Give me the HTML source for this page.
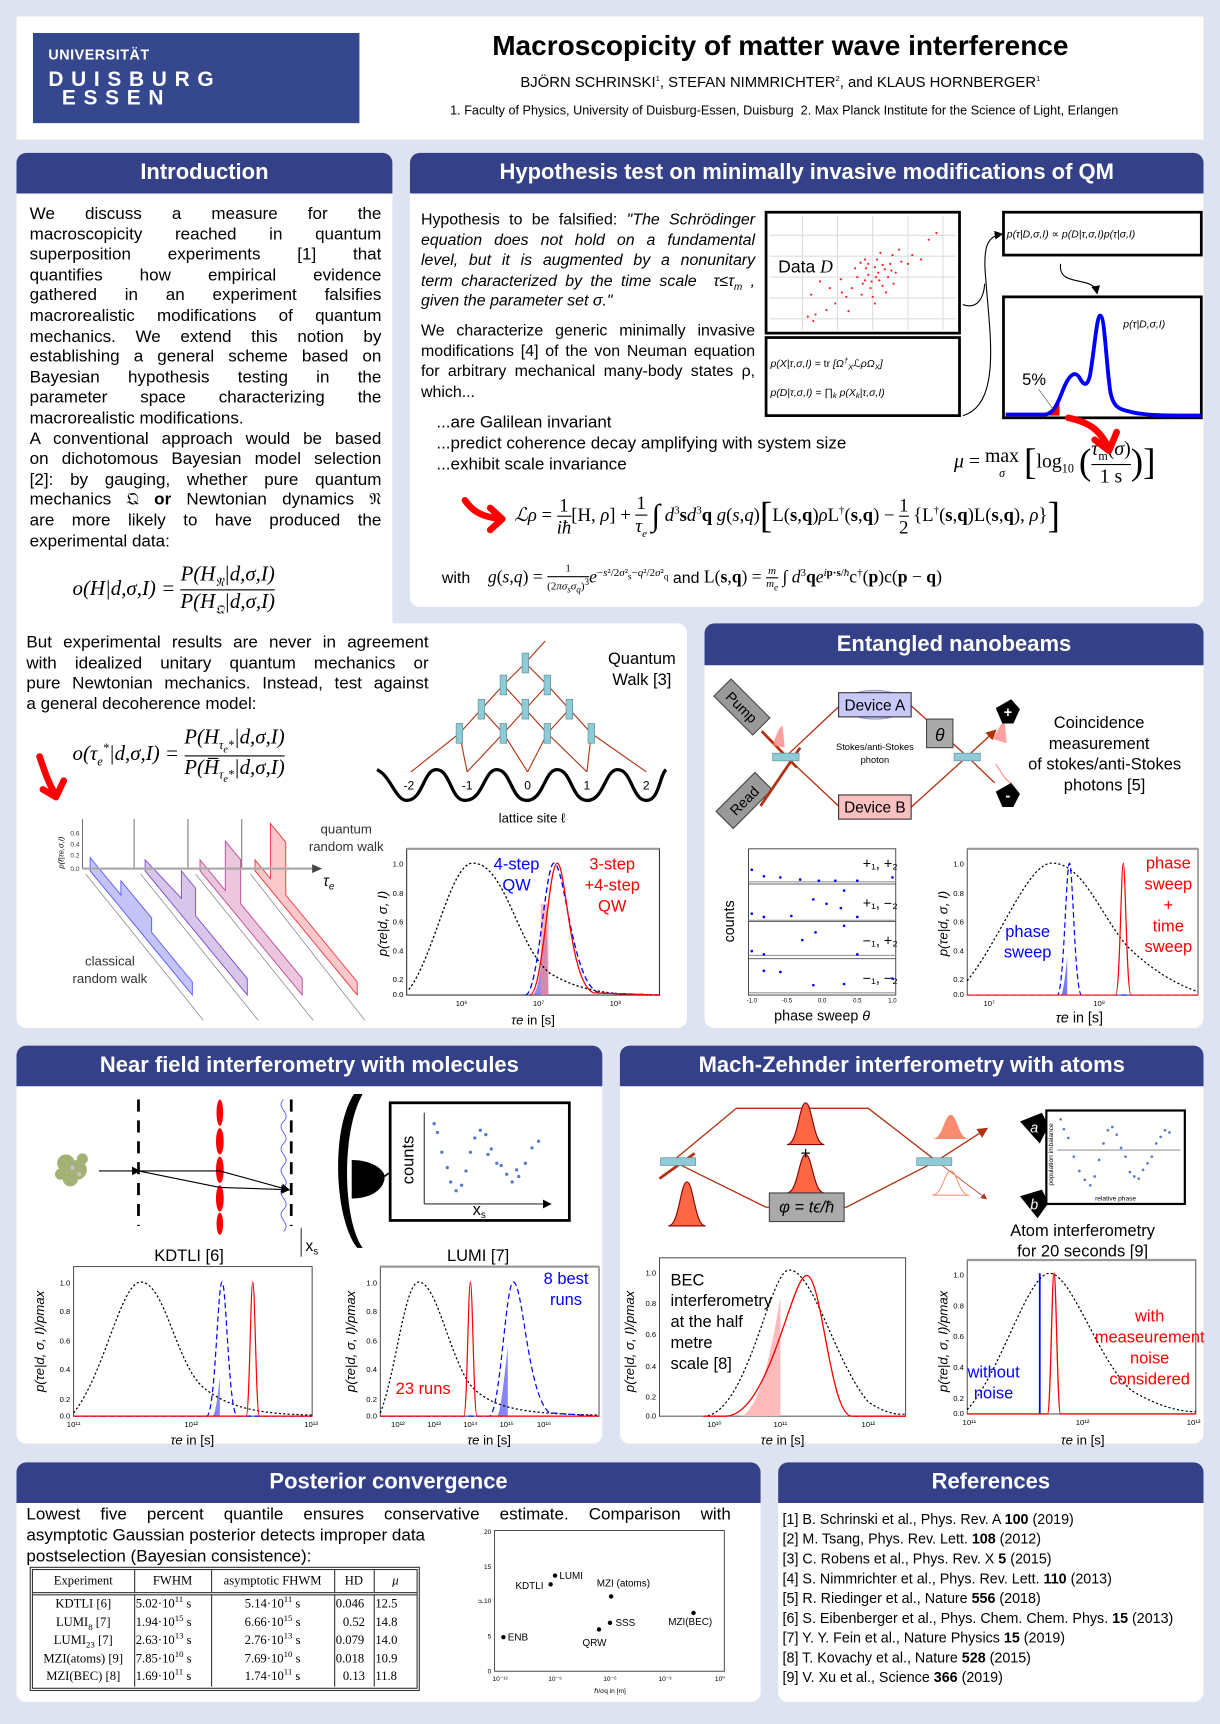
<!DOCTYPE html>
<html><head><meta charset="utf-8"><style>
html,body{margin:0;padding:0;width:1220px;height:1724px;overflow:hidden;background:#dde3f1}
#w{position:absolute;left:0;top:0;width:1110px;height:1568px;transform:scale(1.0991,1.0995);transform-origin:0 0;font-family:"Liberation Sans","DejaVu Sans",sans-serif;color:#000}
.a{position:absolute}
.p{position:absolute;background:#fff}
.h{position:absolute;background:#344087;color:#fff;font-weight:bold;font-size:20px;text-align:center;border-radius:9px 9px 0 0}
.j{display:block;text-align:justify;text-align-last:justify;height:18.6px;line-height:18.6px}
.l{display:block;height:18.6px;line-height:18.6px}
.s{font-family:"Liberation Serif","DejaVu Serif",serif}
.fr{display:inline-block;vertical-align:middle;text-align:center}
.fr>span{display:block;line-height:1.15}
.fr>span:first-child{border-bottom:1.3px solid #000}
svg text{font-family:"Liberation Sans","DejaVu Sans",sans-serif}
table td{padding:0 1px;line-height:12px;height:16.5px;overflow:hidden;white-space:nowrap}
table sup,table sub{line-height:0}
</style></head><body><div id="w">

<!-- header -->
<div class="p" style="left:15px;top:15px;width:1080px;height:112px"></div>
<div class="a" style="left:30px;top:30px;width:297px;height:82px;background:#35478d"></div>
<div class="a" style="left:44px;top:42px;color:#fff;font-weight:bold;font-size:13px;letter-spacing:0.5px">UNIVERSITÄT</div>
<div class="a" style="left:44px;top:64px;color:#fff;font-weight:bold;font-size:19px;letter-spacing:7px;line-height:17px">DUISBURG<br>&nbsp;ESSEN</div>
<div class="a" style="left:360px;top:28px;width:700px;text-align:center;font-weight:bold;font-size:25.5px">Macroscopicity of matter wave interference</div>
<div class="a" style="left:360px;top:67px;width:700px;text-align:center;font-size:13.5px">BJÖRN SCHRINSKI<sup style="font-size:7px">1</sup>, STEFAN NIMMRICHTER<sup style="font-size:7px">2</sup>, and KLAUS HORNBERGER<sup style="font-size:7px">1</sup></div>
<div class="a" style="left:356px;top:95px;width:715px;text-align:center;font-size:11.5px">1. Faculty of Physics, University of Duisburg-Essen, Duisburg&nbsp; 2. Max Planck Institute for the Science of Light, Erlangen</div>

<!-- panels -->
<div class="p" style="left:15px;top:139px;width:342px;height:440px;border-radius:9px 9px 0 0"></div>
<div class="p" style="left:15px;top:567px;width:610px;height:368px;border-radius:9px 9px 9px 9px"></div>
<div class="p" style="left:373px;top:139px;width:722px;height:413px;border-radius:9px"></div>
<div class="p" style="left:641px;top:567px;width:454px;height:368px;border-radius:9px"></div>
<div class="p" style="left:15px;top:951px;width:533px;height:362px;border-radius:9px"></div>
<div class="p" style="left:564px;top:951px;width:531px;height:362px;border-radius:9px"></div>
<div class="p" style="left:15px;top:1330px;width:677px;height:218px;border-radius:9px"></div>
<div class="p" style="left:708px;top:1330px;width:387px;height:218px;border-radius:9px"></div>

<div class="h" style="left:15px;top:139px;width:342px;height:37px;line-height:37px">Introduction</div>
<div class="h" style="left:373px;top:139px;width:722px;height:37px;line-height:37px">Hypothesis test on minimally invasive modifications of QM</div>
<div class="h" style="left:641px;top:567px;width:454px;height:38px;line-height:38px">Entangled nanobeams</div>
<div class="h" style="left:15px;top:951px;width:533px;height:37px;line-height:37px">Near field interferometry with molecules</div>
<div class="h" style="left:564px;top:951px;width:531px;height:37px;line-height:37px">Mach-Zehnder interferometry with atoms</div>
<div class="h" style="left:15px;top:1330px;width:677px;height:37px;line-height:37px">Posterior convergence</div>
<div class="h" style="left:708px;top:1330px;width:387px;height:37px;line-height:37px">References</div>

<!-- intro text -->
<div class="a" style="left:27px;top:186px;width:320px;font-size:15.5px">
<span class="j">We discuss a measure for the</span>
<span class="j">macroscopicity reached in quantum</span>
<span class="j">superposition experiments [1] that</span>
<span class="j">quantifies how empirical evidence</span>
<span class="j">gathered in an experiment falsifies</span>
<span class="j">macrorealistic modifications of quantum</span>
<span class="j">mechanics. We extend this notion by</span>
<span class="j">establishing a general scheme based on</span>
<span class="j">Bayesian hypothesis testing in the</span>
<span class="j">parameter space characterizing the</span>
<span class="l">macrorealistic modifications.</span>
<span class="j">A conventional approach would be based</span>
<span class="j">on dichotomous Bayesian model selection</span>
<span class="j">[2]: by gauging, whether pure quantum</span>
<span class="j">mechanics 𝔔 <b>or</b> Newtonian dynamics 𝔑</span>
<span class="j">are more likely to have produced the</span>
<span class="l">experimental data:</span>
</div>
<div class="a s" style="left:66px;top:512px;font-size:19px;font-style:italic;white-space:nowrap">o(H|d,σ,I) = <span class="fr"><span>P(H<sub style="font-size:11px">𝔑</sub>|d,σ,I)</span><span>P(H<sub style="font-size:11px">𝔔</sub>|d,σ,I)</span></span></div>

<!-- hypothesis text -->
<div class="a" style="left:383px;top:191px;width:304px;font-size:14.5px">
<span class="j">Hypothesis to be falsified: <i>"The Schrödinger</i></span>
<span class="j"><i>equation does not hold on a fundamental</i></span>
<span class="j"><i>level, but it is augmented by a nonunitary</i></span>
<span class="j"><i>term characterized by the time scale &nbsp;τ≤τ<sub style="font-size:9px">m</sub> ,</i></span>
<span class="l"><i>given the parameter set σ."</i></span>
<span class="l" style="height:8px"></span>
<span class="j">We characterize generic minimally invasive</span>
<span class="j">modifications [4] of the von Neuman equation</span>
<span class="j">for arbitrary mechanical many-body states ρ,</span>
<span class="l">which...</span>
</div>
<div class="a" style="left:397px;top:375px;font-size:15.5px;line-height:19px">...are Galilean invariant<br>...predict coherence decay amplifying with system size<br>...exhibit scale invariance</div>
<div class="a s" style="left:868px;top:398px;font-size:18px;white-space:nowrap"><i>μ</i> = <span class="fr"><span style="border:none">max</span><span style="font-size:11px"><i>σ</i></span></span> <span style="font-size:34px;vertical-align:middle">[</span>log<sub style="font-size:11px">10</sub> <span style="font-size:34px;vertical-align:middle">(</span><span class="fr"><span><i>τ</i><sub style="font-size:11px">m</sub>(<i>σ</i>)</span><span>1 s</span></span><span style="font-size:34px;vertical-align:middle">)</span><span style="font-size:34px;vertical-align:middle">]</span></div>
<div class="a s" style="left:468px;top:448px;font-size:17px;white-space:nowrap"><i>ℒρ</i> = <span class="fr"><span>1</span><span><i>iħ</i></span></span>[H, <i>ρ</i>] + <span class="fr"><span>1</span><span><i>τ<sub style="font-size:10px">e</sub></i></span></span> <span style="font-size:28px;vertical-align:middle">∫</span> <i>d</i><sup style="font-size:10px">3</sup><b>s</b><i>d</i><sup style="font-size:10px">3</sup><b>q</b> <i>g</i>(<i>s</i>,<i>q</i>)<span style="font-size:34px;vertical-align:middle">[</span>L(<b>s</b>,<b>q</b>)<i>ρ</i>L<sup style="font-size:10px">†</sup>(<b>s</b>,<b>q</b>) − <span class="fr"><span>1</span><span>2</span></span> {L<sup style="font-size:10px">†</sup>(<b>s</b>,<b>q</b>)L(<b>s</b>,<b>q</b>), <i>ρ</i>}<span style="font-size:34px;vertical-align:middle">]</span></div>
<div class="a" style="left:402px;top:512px;font-size:14.5px;white-space:nowrap">with &nbsp;&nbsp;&nbsp;<span class="s" style="font-size:16px"><i>g</i>(<i>s</i>,<i>q</i>) = <span class="fr" style="font-size:10px"><span>1</span><span>(2<i>πσ<sub>s</sub>σ<sub>q</sub></i>)<sup>3</sup></span></span><i>e</i><sup style="font-size:10px">−<i>s</i>²/2<i>σ</i>²<sub>s</sub>−<i>q</i>²/2<i>σ</i>²<sub>q</sub></sup></span> and <span class="s" style="font-size:16px">L(<b>s</b>,<b>q</b>) = <span class="fr" style="font-size:10px"><span><i>m</i></span><span><i>m<sub>e</sub></i></span></span> ∫ <i>d</i><sup style="font-size:10px">3</sup><b>q</b><i>e</i><sup style="font-size:10px"><i>i</i><b>p·s</b>/<i>ħ</i></sup>c<sup style="font-size:10px">†</sup>(<b>p</b>)c(<b>p</b> − <b>q</b>)</span></div>

<!-- lower-left text -->
<div class="a" style="left:24px;top:576px;width:366px;font-size:15.5px">
<span class="j">But experimental results are never in agreement</span>
<span class="j">with idealized unitary quantum mechanics or</span>
<span class="j">pure Newtonian mechanics. Instead, test against</span>
<span class="l">a general decoherence model:</span>
</div>
<div class="a s" style="left:66px;top:660px;font-size:19px;font-style:italic;white-space:nowrap">o(τ<sub style="font-size:11px">e</sub><sup style="font-size:11px">*</sup>|d,σ,I) = <span class="fr"><span>P(H<sub style="font-size:11px">τ<sub>e</sub>*</sub>|d,σ,I)</span><span>P(H̅<sub style="font-size:11px">τ<sub>e</sub>*</sub>|d,σ,I)</span></span></div>

<!-- posterior -->
<div class="a" style="left:24px;top:1369px;width:641px;font-size:15.5px">
<span class="j">Lowest five percent quantile ensures conservative estimate. Comparison with</span>
</div>
<div class="a" style="left:24px;top:1388px;font-size:15.5px;line-height:18.6px">asymptotic Gaussian posterior detects improper data<br>postselection (Bayesian consistence):</div>
<div class="a" style="left:27px;top:1425px;width:355px;height:113px;border:3px double #333;box-sizing:border-box"></div>
<table class="a s" style="left:30px;top:1428px;border-collapse:collapse;font-size:11.5px;width:349px;table-layout:fixed">
<colgroup><col style="width:92px"><col style="width:70px"><col style="width:112px"><col style="width:36px"><col style="width:39px"></colgroup>
<tr style="border-bottom:3px double #333"><td style="height:20px;text-align:center;border-right:1px solid #333">Experiment</td><td style="height:20px;text-align:center;border-right:1px solid #333">FWHM</td><td style="height:20px;text-align:center;border-right:1px solid #333">asymptotic FHWM</td><td style="height:20px;text-align:center;border-right:1px solid #333">HD</td><td style="text-align:center"><i>μ</i></td></tr>
<tr><td style="text-align:center;border-right:1px solid #333">KDTLI [6]</td><td style="border-right:1px solid #333">5.02·10<sup style="font-size:8px">11</sup> s</td><td style="text-align:center;border-right:1px solid #333">5.14·10<sup style="font-size:8px">11</sup> s</td><td style="border-right:1px solid #333">0.046</td><td>12.5</td></tr>
<tr><td style="text-align:center;border-right:1px solid #333">LUMI<sub style="font-size:8px">8</sub> [7]</td><td style="border-right:1px solid #333">1.94·10<sup style="font-size:8px">15</sup> s</td><td style="text-align:center;border-right:1px solid #333">6.66·10<sup style="font-size:8px">15</sup> s</td><td style="text-align:center;border-right:1px solid #333">0.52</td><td>14.8</td></tr>
<tr><td style="text-align:center;border-right:1px solid #333">LUMI<sub style="font-size:8px">23</sub> [7]</td><td style="border-right:1px solid #333">2.63·10<sup style="font-size:8px">13</sup> s</td><td style="text-align:center;border-right:1px solid #333">2.76·10<sup style="font-size:8px">13</sup> s</td><td style="border-right:1px solid #333">0.079</td><td>14.0</td></tr>
<tr><td style="text-align:center;border-right:1px solid #333">MZI(atoms) [9]</td><td style="border-right:1px solid #333">7.85·10<sup style="font-size:8px">10</sup> s</td><td style="text-align:center;border-right:1px solid #333">7.69·10<sup style="font-size:8px">10</sup> s</td><td style="border-right:1px solid #333">0.018</td><td>10.9</td></tr>
<tr><td style="text-align:center;border-right:1px solid #333">MZI(BEC) [8]</td><td style="border-right:1px solid #333">1.69·10<sup style="font-size:8px">11</sup> s</td><td style="text-align:center;border-right:1px solid #333">1.74·10<sup style="font-size:8px">11</sup> s</td><td style="text-align:center;border-right:1px solid #333">0.13</td><td>11.8</td></tr>
</table>

<!-- references -->
<div class="a" style="left:712px;top:1373px;font-size:13px;line-height:18px;white-space:nowrap">
[1] B. Schrinski et al., Phys. Rev. A <b>100</b> (2019)<br>
[2] M. Tsang, Phys. Rev. Lett. <b>108</b> (2012)<br>
[3] C. Robens et al., Phys. Rev. X <b>5</b> (2015)<br>
[4] S. Nimmrichter et al., Phys. Rev. Lett. <b>110</b> (2013)<br>
[5] R. Riedinger et al., Nature <b>556</b> (2018)<br>
[6] S. Eibenberger et al., Phys. Chem. Chem. Phys. <b>15</b> (2013)<br>
[7] Y. Y. Fein et al., Nature Physics <b>15</b> (2019)<br>
[8] T. Kovachy et al., Nature <b>528</b> (2015)<br>
[9] V. Xu et al., Science <b>366</b> (2019)</div>

<!-- text labels for figures -->
<div class="a" style="left:1000px;top:648px;width:110px;margin-left:-55px;text-align:center;font-size:15px;line-height:19px">Coincidence<br>measurement</div>
<div class="a" style="left:920px;top:686px;width:170px;text-align:center;font-size:15px;line-height:19px">of stokes/anti-Stokes<br>photons [5]</div>
<div class="a" style="left:880px;top:1110px;width:210px;text-align:center;font-size:15px;line-height:19px">Atom interferometry<br>for 20 seconds [9]</div>
<div class="a" style="left:610px;top:1155px;font-size:15px;line-height:19px">BEC<br>interferometry<br>at the half<br>metre<br>scale [8]</div>

<svg class="a" style="left:0;top:0" width="1110" height="1568" viewBox="0 0 1110 1568">
<defs>
<marker id="ah" markerWidth="8" markerHeight="8" refX="6" refY="4" orient="auto"><path d="M0,0 L8,4 L0,8 Z" fill="#000"/></marker>
<marker id="ar" markerWidth="8" markerHeight="8" refX="6" refY="4" orient="auto"><path d="M0,0 L8,4 L0,8 Z" fill="#b03010"/></marker>
</defs>

<!-- Hypothesis figure -->
<rect x="697" y="193" width="176" height="110" fill="#fff" stroke="#000" stroke-width="2.5"/>
<g stroke="#ddd" stroke-width="1"><line x1="730" y1="196" x2="730" y2="300"/><line x1="762" y1="196" x2="762" y2="300"/><line x1="794" y1="196" x2="794" y2="300"/><line x1="826" y1="196" x2="826" y2="300"/><line x1="858" y1="196" x2="858" y2="300"/><line x1="700" y1="214" x2="870" y2="214"/><line x1="700" y1="233" x2="870" y2="233"/><line x1="700" y1="252" x2="870" y2="252"/><line x1="700" y1="271" x2="870" y2="271"/><line x1="700" y1="290" x2="870" y2="290"/></g>
<g fill="#f22">
<circle cx="796" cy="243" r="1"/><circle cx="790" cy="250" r="1"/><circle cx="800" cy="255" r="1"/><circle cx="785" cy="258" r="1"/><circle cx="805" cy="245" r="1"/><circle cx="792" cy="262" r="1"/><circle cx="810" cy="240" r="1"/><circle cx="780" cy="252" r="1"/><circle cx="798" cy="236" r="1"/><circle cx="815" cy="248" r="1"/><circle cx="788" cy="244" r="1"/><circle cx="775" cy="262" r="1"/><circle cx="803" cy="260" r="1"/><circle cx="812" cy="232" r="1"/><circle cx="820" cy="238" r="1"/><circle cx="794" cy="270" r="1"/><circle cx="784" cy="268" r="1"/><circle cx="770" cy="270" r="1"/><circle cx="808" cy="252" r="1"/><circle cx="799" cy="248" r="1"/><circle cx="793" cy="256" r="1"/><circle cx="787" cy="236" r="1"/><circle cx="778" cy="244" r="1"/><circle cx="818" cy="227" r="1"/><circle cx="826" cy="240" r="1"/><circle cx="760" cy="276" r="1"/><circle cx="766" cy="266" r="1"/><circle cx="755" cy="262" r="1"/><circle cx="735" cy="288" r="1"/><circle cx="742" cy="286" r="1"/><circle cx="740" cy="292" r="1"/><circle cx="752" cy="282" r="1"/><circle cx="772" cy="283" r="1"/><circle cx="830" cy="232" r="1"/><circle cx="845" cy="218" r="1"/><circle cx="852" cy="212" r="1"/><circle cx="838" cy="236" r="1"/><circle cx="801" cy="230" r="1"/><circle cx="783" cy="239" r="1"/><circle cx="806" cy="266" r="1"/><circle cx="796" cy="276" r="1"/><circle cx="813" cy="258" r="1"/><circle cx="790" cy="240" r="1"/><circle cx="797" cy="252" r="1"/><circle cx="787" cy="255" r="1"/><circle cx="803" cy="241" r="1"/><circle cx="811" cy="246" r="1"/><circle cx="765" cy="254" r="1"/><circle cx="738" cy="268" r="1"/><circle cx="746" cy="256" r="1"/></g>
<text x="708" y="248" font-size="16">Data <tspan font-family="Liberation Serif" font-style="italic">D</tspan></text>
<rect x="697" y="307" width="176" height="71" fill="#fff" stroke="#000" stroke-width="2.5"/>
<text x="701" y="334" font-size="9.5" font-family="Liberation Serif" font-style="italic">p(X|τ,σ,I) = <tspan font-style="normal">tr</tspan> [Ω<tspan font-size="7" dy="-4">†</tspan><tspan font-size="7" dy="6">X</tspan><tspan dy="-2">ℒρΩ</tspan><tspan font-size="7" dy="2">X</tspan><tspan dy="-2">]</tspan></text>
<text x="701" y="360" font-size="9.5" font-family="Liberation Serif" font-style="italic">p(D|τ,σ,I) = ∏<tspan font-size="7" dy="2">k</tspan><tspan dy="-2"> p(X</tspan><tspan font-size="7" dy="2">k</tspan><tspan dy="-2">|τ,σ,I)</tspan></text>
<path d="M876,277 C890,282 895,270 896,258" fill="none" stroke="#000" stroke-width="1"/>
<path d="M876,378 C912,368 900,300 897,255 C894,225 898,215 911,213" fill="none" stroke="#000" stroke-width="1" marker-end="url(#ah)"/>
<rect x="913" y="193" width="180" height="39" fill="#fff" stroke="#000" stroke-width="2.5"/>
<text x="916" y="216" font-size="9.5" font-family="Liberation Serif" font-style="italic">p(τ|D,σ,I) ∝ p(D|τ,σ,I)p(τ|σ,I)</text>
<path d="M965,240 C962,262 995,250 998,266" fill="none" stroke="#000" stroke-width="1" marker-end="url(#ah)"/>
<rect x="913" y="270" width="180" height="110" fill="#fff" stroke="#000" stroke-width="2.5"/>
<path d="M955,377 C958,370 960,367 964,362 L964,378 L955,378 Z" fill="#f00"/>
<path d="M915,377 L950,377 C958,377 962,368 967,355 C972,342 978,335 983,345 C987,352 990,350 992,340 C996,315 998,287 1001,287 C1005,287 1006,325 1010,355 C1013,373 1020,372 1030,375 C1045,378 1060,378 1093,378" fill="none" stroke="#00f" stroke-width="3.5"/>
<text x="930" y="350" font-size="15">5%</text>
<line x1="945" y1="354" x2="958" y2="372" stroke="#555" stroke-width="0.6"/>
<text x="1022" y="298" font-size="9.5" font-family="Liberation Serif" font-style="italic">p(τ|D,σ,I)</text>
<path d="M972,380 C990,384 1000,390 1008,406" fill="none" stroke="#f00" stroke-width="6" stroke-linecap="round"/>
<path d="M996,400 L1009,410 L1016,393" fill="none" stroke="#f00" stroke-width="6" stroke-linecap="round" stroke-linejoin="round"/>
<!-- red arrow lindblad -->
<path d="M423,455 C430,465 438,470 455,472" fill="none" stroke="#f00" stroke-width="6" stroke-linecap="round"/>
<path d="M446,462 L457,472 L446,482" fill="none" stroke="#f00" stroke-width="6" stroke-linecap="round" stroke-linejoin="round"/>
<!-- red arrow lower left -->
<path d="M36,688 C40,700 44,712 50,722" fill="none" stroke="#f00" stroke-width="6" stroke-linecap="round"/>
<path d="M39,718 L51,725 L58,710" fill="none" stroke="#f00" stroke-width="6" stroke-linecap="round" stroke-linejoin="round"/>

<!-- Quantum walk -->
<g stroke="#b03010" stroke-width="1" fill="none">
<line x1="496" y1="583" x2="478" y2="603"/>
<line x1="478" y1="603" x2="458" y2="623"/><line x1="478" y1="603" x2="498" y2="623"/>
<line x1="458" y1="623" x2="438" y2="645"/><line x1="458" y1="623" x2="478" y2="645"/>
<line x1="498" y1="623" x2="478" y2="645"/><line x1="498" y1="623" x2="518" y2="645"/>
<line x1="438" y1="645" x2="418" y2="667"/><line x1="438" y1="645" x2="458" y2="667"/>
<line x1="478" y1="645" x2="458" y2="667"/><line x1="478" y1="645" x2="498" y2="667"/>
<line x1="518" y1="645" x2="498" y2="667"/><line x1="518" y1="645" x2="538" y2="667"/>
<line x1="418" y1="667" x2="374" y2="702"/><line x1="418" y1="667" x2="425" y2="702"/>
<line x1="458" y1="667" x2="425" y2="702"/><line x1="458" y1="667" x2="480" y2="702"/>
<line x1="498" y1="667" x2="480" y2="702"/><line x1="498" y1="667" x2="534" y2="702"/>
<line x1="538" y1="667" x2="534" y2="702"/><line x1="538" y1="667" x2="588" y2="702"/>
</g>
<g fill="#8fcbd6" stroke="#5a8f9a" stroke-width="0.6">
<rect x="475" y="594" width="6" height="18"/><rect x="455" y="614" width="6" height="18"/><rect x="495" y="614" width="6" height="18"/>
<rect x="435" y="636" width="6" height="18"/><rect x="475" y="636" width="6" height="18"/><rect x="515" y="636" width="6" height="18"/>
<rect x="415" y="658" width="6" height="18"/><rect x="455" y="658" width="6" height="18"/><rect x="495" y="658" width="6" height="18"/><rect x="535" y="658" width="6" height="18"/>
</g>
<path d="M343,700 C355,705 360,728 370,728 C385,728 385,700 397,700 C410,700 410,728 423,728 C440,728 440,700 452,700 C465,700 465,728 479,728 C495,728 495,700 507,700 C520,700 520,728 534,728 C550,728 550,700 562,700 C575,700 575,728 588,728 C600,728 600,705 606,700" fill="none" stroke="#000" stroke-width="3"/>
<g font-size="11" text-anchor="middle"><text x="372" y="718">-2</text><text x="425" y="718">-1</text><text x="480" y="718">0</text><text x="534" y="718">1</text><text x="588" y="718">2</text></g>
<text x="484" y="748" font-size="12" text-anchor="middle" font-family="Liberation Serif">lattice site ℓ</text>
<text x="584" y="604" font-size="15" text-anchor="middle">Quantum</text>
<text x="584" y="623" font-size="15" text-anchor="middle">Walk [3]</text>

<!-- Waterfall -->
<g font-family="Liberation Serif" font-size="12" text-anchor="middle" fill="#333"><text x="315" y="758">quantum</text><text x="315" y="774">random walk</text><text x="100" y="878">classical</text><text x="100" y="894">random walk</text></g>
<g stroke="#444" stroke-width="0.7">
<line x1="75" y1="745" x2="75" y2="790"/><line x1="122" y1="745" x2="122" y2="790"/><line x1="171" y1="745" x2="171" y2="790"/><line x1="220" y1="745" x2="220" y2="790"/>
</g>
<g stroke="#888" stroke-width="0.7">
<line x1="78" y1="795" x2="185" y2="928"/><line x1="128" y1="795" x2="235" y2="928"/><line x1="178" y1="795" x2="285" y2="928"/><line x1="228" y1="795" x2="332" y2="928"/>
</g>
<polygon points="82,792 175,905 175,893 138,848 138,835 110,801 110,814 82,780" fill="#c4c4f8" stroke="#55f" stroke-width="0.8"/>
<polygon points="132,792 225,905 225,890 178,833 178,808 165,792 165,817 132,782" fill="#d8c6ea" stroke="#74c" stroke-width="0.8"/>
<polygon points="182,792 275,905 275,890 219,822 219,782 205,765 205,810 182,782" fill="#ecc6dc" stroke="#b49" stroke-width="0.8"/>
<polygon points="232,792 325,905 325,893 260,814 260,766 246,749 246,799 232,782" fill="#fcc8cc" stroke="#e33" stroke-width="0.8"/>
<line x1="75" y1="790" x2="288" y2="790" stroke="#aaa" stroke-width="2"/>
<path d="M284,786 L293,790 L284,794 Z" fill="#444"/>
<text x="294" y="806" font-size="14" font-family="Liberation Serif" font-style="italic">τ<tspan font-size="9" dy="3">e</tspan></text>
<text x="58" y="790" font-size="7" font-family="Liberation Serif" font-style="italic" transform="rotate(-90 58 790)">p(ℓ|τe,σ,I)</text>
<g font-size="6" fill="#333"><text x="64" y="760">0.6</text><text x="64" y="770">0.4</text><text x="64" y="780">0.2</text><text x="64" y="792">0.0</text></g>

<!-- QW chart -->
<rect x="370" y="772" width="230" height="133" fill="none" stroke="#333" stroke-width="1"/>
<line x1="370" y1="772" x2="600" y2="772" stroke="#999" stroke-width="2"/>
<path d="M484,905 C490,905 494,870 497,830 L499,905 Z" fill="#6a5adf" opacity="0.7"/>
<rect x="492" y="822" width="7" height="83" fill="#f88" opacity="0.6"/>
<path d="M372,900 C395,870 410,785 430,785 C460,785 470,860 500,885 C530,903 560,905 600,905" fill="none" stroke="#000" stroke-width="1.2" stroke-dasharray="2,2"/>
<path d="M478,905 C490,905 496,785 504,785 C514,785 520,895 545,903 L600,905" fill="none" stroke="#00f" stroke-width="1.2" stroke-dasharray="5,3"/>
<path d="M482,905 C494,905 499,785 507,785 C515,785 518,895 540,903 L600,905" fill="none" stroke="#f00" stroke-width="1.2"/>
<g font-size="7" text-anchor="end"><text x="367" y="788">1.0</text><text x="367" y="815">0.8</text><text x="367" y="841">0.6</text><text x="367" y="867">0.4</text><text x="367" y="893">0.2</text><text x="367" y="907">0.0</text></g>
<g font-size="7" text-anchor="middle"><text x="420" y="915">10⁶</text><text x="490" y="915">10⁷</text><text x="560" y="915">10⁸</text></g>
<text x="485" y="932" font-size="12" text-anchor="middle" font-family="Liberation Serif" font-style="italic">τe <tspan font-style="normal">in [s]</tspan></text>
<text x="352" y="840" font-size="12" text-anchor="middle" font-family="Liberation Serif" font-style="italic" transform="rotate(-90 352 840)">p(τe|d, σ, I)</text>
<g font-size="15" text-anchor="middle"><text x="470" y="791" fill="#00f">4-step</text><text x="470" y="810" fill="#00f">QW</text><text x="557" y="791" fill="#f00">3-step</text><text x="557" y="810" fill="#f00">+4-step</text><text x="557" y="829" fill="#f00">QW</text></g>

<!-- Entangled diagram -->
<g transform="rotate(45 675 643)"><rect x="650" y="632" width="50" height="22" fill="#999" stroke="#444"/><text x="675" y="648" font-size="13" text-anchor="middle" font-family="Liberation Serif">Pump</text></g>
<g transform="rotate(-45 677 728)"><rect x="652" y="717" width="50" height="22" fill="#999" stroke="#444"/><text x="677" y="733" font-size="13" text-anchor="middle" font-family="Liberation Serif">Read</text></g>
<g stroke="#b03010" stroke-width="1.2" fill="none">
<line x1="715" y1="688" x2="765" y2="641"/><line x1="715" y1="688" x2="765" y2="735"/>
<line x1="828" y1="641" x2="880" y2="688"/><line x1="828" y1="735" x2="880" y2="688"/>
<line x1="880" y1="688" x2="905" y2="665" marker-end="url(#ar)"/><line x1="880" y1="688" x2="905" y2="712"/>
</g>
<line x1="693" y1="665" x2="725" y2="698" stroke="#b03010" stroke-width="2.5"/>
<line x1="692" y1="733" x2="728" y2="680" stroke="#b03010" stroke-width="2.5"/>
<rect x="703" y="685" width="24" height="7" fill="#8fcbd6" stroke="#5a8f9a" stroke-width="0.6"/>
<rect x="868" y="685" width="24" height="7" fill="#8fcbd6" stroke="#5a8f9a" stroke-width="0.6"/>
<ellipse cx="796" cy="641" rx="30" ry="13" fill="#d0d0f8" stroke="#99c"/>
<rect x="763" y="630" width="66" height="22" fill="#c8c8fa" stroke="#333"/>
<text x="796" y="646" font-size="14" text-anchor="middle" font-family="Liberation Serif">Device A</text>
<rect x="763" y="723" width="66" height="22" fill="#f8c0c0" stroke="#333"/>
<text x="796" y="739" font-size="14" text-anchor="middle" font-family="Liberation Serif">Device B</text>
<rect x="843" y="654" width="24" height="26" fill="#aaa" stroke="#444"/>
<text x="855" y="674" font-size="16" text-anchor="middle" font-family="Liberation Serif" font-style="italic">θ</text>
<text x="796" y="682" font-size="8.5" text-anchor="middle" font-family="Liberation Serif">Stokes/anti-Stokes</text>
<text x="796" y="694" font-size="8.5" text-anchor="middle" font-family="Liberation Serif">photon</text>
<path d="M703,678 C706,670 708,662 712,660 L714,680 Z" fill="#f88" opacity="0.8"/>
<path d="M903,672 C908,665 910,658 914,656 L916,676 Z" fill="#f88" opacity="0.8"/>
<path d="M906,695 C910,700 914,710 920,712" fill="none" stroke="#f88"/>
<path d="M906,644 L920,636 L928,645 L922,658 L912,658 Z" fill="#000"/><text x="917" y="652" font-size="13" fill="#fff" text-anchor="middle" font-weight="bold">+</text>
<path d="M906,720 L920,712 L928,722 L922,734 L912,734 Z" fill="#000"/><text x="917" y="728" font-size="13" fill="#fff" text-anchor="middle" font-weight="bold">-</text>

<!-- counts chart -->
<rect x="681" y="772" width="134" height="133" fill="none" stroke="#333" stroke-width="0.8"/>
<g stroke="#999" stroke-width="1"><line x1="681" y1="802" x2="815" y2="802"/><line x1="681" y1="837" x2="815" y2="837"/><line x1="681" y1="869" x2="815" y2="869"/><line x1="681" y1="903" x2="815" y2="903"/></g>
<g stroke="#333" stroke-width="0.6"><line x1="681" y1="804" x2="815" y2="804"/><line x1="681" y1="838" x2="815" y2="838"/><line x1="681" y1="872" x2="815" y2="872"/></g>
<g font-size="13" font-family="Liberation Serif"><text x="785" y="790">+₁, +₂</text><text x="785" y="826">+₁, −₂</text><text x="785" y="860">−₁, +₂</text><text x="785" y="894">−₁, −₂</text></g>
<g fill="#00f"><circle cx="684" cy="791" r="1.2"/><circle cx="695" cy="797" r="1.2"/><circle cx="710" cy="798" r="1.2"/><circle cx="728" cy="800" r="1.2"/><circle cx="745" cy="801" r="1.2"/><circle cx="760" cy="801" r="1.2"/><circle cx="780" cy="801" r="1.2"/><circle cx="812" cy="798" r="1.2"/>
<circle cx="684" cy="831" r="1.2"/><circle cx="695" cy="834" r="1.2"/><circle cx="720" cy="833" r="1.2"/><circle cx="740" cy="818" r="1.2"/><circle cx="752" cy="822" r="1.2"/><circle cx="765" cy="826" r="1.2"/><circle cx="780" cy="834" r="1.2"/><circle cx="768" cy="810" r="1.2"/>
<circle cx="684" cy="865" r="1.2"/><circle cx="695" cy="868" r="1.2"/><circle cx="730" cy="855" r="1.2"/><circle cx="742" cy="848" r="1.2"/><circle cx="768" cy="842" r="1.2"/><circle cx="780" cy="868" r="1.2"/>
<circle cx="695" cy="883" r="1.2"/><circle cx="710" cy="884" r="1.2"/><circle cx="740" cy="896" r="1.2"/><circle cx="768" cy="895" r="1.2"/><circle cx="812" cy="890" r="1.2"/></g>
<g font-size="5.5" text-anchor="middle"><text x="684" y="912">-1.0</text><text x="716" y="912">-0.5</text><text x="748" y="912">0.0</text><text x="780" y="912">0.5</text><text x="812" y="912">1.0</text></g>
<text x="748" y="928" font-size="13" text-anchor="middle" font-family="Liberation Serif">phase sweep <tspan font-style="italic">θ</tspan></text>
<text x="668" y="838" font-size="13" text-anchor="middle" font-family="Liberation Serif" transform="rotate(-90 668 838)">counts</text>

<!-- entangled right chart -->
<rect x="880" y="772" width="210" height="133" fill="none" stroke="#333" stroke-width="0.8"/>
<line x1="880" y1="772" x2="1090" y2="772" stroke="#999" stroke-width="2"/>
<path d="M965,905 C967,905 969,890 971,870 L971,905 Z" fill="#55f" opacity="0.8"/>
<path d="M880,892 C910,855 935,785 957,785 C985,785 1000,830 1025,860 C1050,885 1075,897 1090,902" fill="none" stroke="#000" stroke-width="1.1" stroke-dasharray="2,2"/>
<path d="M880,905 L962,905 C968,905 970,785 973,785 C976,785 978,905 984,905 L1090,905" fill="none" stroke="#00f" stroke-width="1.1" stroke-dasharray="5,3"/>
<path d="M880,905 L1015,905 C1019,905 1020,785 1022,785 C1024,785 1025,905 1029,905 L1090,905" fill="none" stroke="#f00" stroke-width="1.1"/>
<g font-size="7" text-anchor="end"><text x="877" y="788">1.0</text><text x="877" y="815">0.8</text><text x="877" y="841">0.6</text><text x="877" y="867">0.4</text><text x="877" y="893">0.2</text><text x="877" y="907">0.0</text></g>
<g font-size="7" text-anchor="middle"><text x="900" y="915">10⁷</text><text x="1000" y="915">10⁸</text></g>
<text x="982" y="930" font-size="13" text-anchor="middle" font-family="Liberation Serif" font-style="italic">τe <tspan font-style="normal">in [s]</tspan></text>
<text x="862" y="840" font-size="12" text-anchor="middle" font-family="Liberation Serif" font-style="italic" transform="rotate(-90 862 840)">p(τe|d, σ, I)</text>
<g font-size="15" text-anchor="middle"><text x="935" y="852" fill="#00f">phase</text><text x="935" y="871" fill="#00f">sweep</text>
<text x="1063" y="790" fill="#f00">phase</text><text x="1063" y="809" fill="#f00">sweep</text><text x="1063" y="828" fill="#f00">+</text><text x="1063" y="847" fill="#f00">time</text><text x="1063" y="866" fill="#f00">sweep</text></g>

<!-- Near field diagram -->
<g fill="#9a6" opacity="0.9"><circle cx="60" cy="1058" r="8"/><circle cx="70" cy="1064" r="9"/><circle cx="64" cy="1072" r="7"/><circle cx="75" cy="1054" r="5"/><circle cx="55" cy="1068" r="5"/></g>
<g fill="#cbc"><circle cx="66" cy="1062" r="2"/><circle cx="72" cy="1068" r="2"/></g>
<line x1="126" y1="1000" x2="126" y2="1115" stroke="#000" stroke-width="2.5" stroke-dasharray="11,8"/>
<line x1="265" y1="1000" x2="265" y2="1115" stroke="#000" stroke-width="2.5" stroke-dasharray="11,8"/>
<g fill="#f00"><ellipse cx="200" cy="1012" rx="3" ry="12"/><ellipse cx="200" cy="1038" rx="3.5" ry="12"/><ellipse cx="200" cy="1064" rx="3.5" ry="12"/><ellipse cx="200" cy="1090" rx="3.5" ry="12"/><ellipse cx="200" cy="1113" rx="3" ry="10"/></g>
<path d="M258,1000 C250,1008 266,1012 258,1020 C250,1028 266,1032 258,1040 C250,1048 266,1052 258,1060 C250,1068 266,1072 258,1080 C250,1088 266,1092 258,1100 C250,1108 266,1112 258,1120" fill="none" stroke="#55f" stroke-width="0.8"/>
<g stroke="#000" stroke-width="1" fill="none"><line x1="90" y1="1065" x2="126" y2="1065" marker-end="url(#ah)"/><line x1="126" y1="1065" x2="200" y2="1065"/><line x1="126" y1="1065" x2="200" y2="1080"/><line x1="200" y1="1080" x2="262" y2="1082" marker-end="url(#ah)"/><line x1="200" y1="1065" x2="262" y2="1082" marker-end="url(#ah)"/></g>
<path d="M322,995 C300,1030 305,1110 325,1135 L330,1135 C312,1110 310,1030 330,995 Z" fill="#000"/>
<path d="M320,1055 C340,1055 350,1065 350,1070 C350,1080 340,1090 320,1090 Z" fill="#000"/>
<path d="M350,1070 C360,1060 365,1075 355,1078" fill="none" stroke="#000" stroke-width="1.5"/>
<rect x="355" y="1003" width="163" height="107" fill="#fff" stroke="#000" stroke-width="2.5"/>
<line x1="386" y1="1095" x2="500" y2="1095" stroke="#333" marker-end="url(#ah)"/><line x1="386" y1="1095" x2="386" y2="1012" stroke="#333"/>
<text x="376" y="1055" font-size="15" text-anchor="middle" transform="rotate(-90 376 1055)">counts</text>
<text x="436" y="1105" font-size="15" text-anchor="middle">x<tspan font-size="9" dy="3">s</tspan></text>
<g fill="#5577cc"><circle cx="395" cy="1022" r="1.5"/><circle cx="398" cy="1030" r="1.5"/><circle cx="402" cy="1048" r="1.5"/><circle cx="407" cy="1062" r="1.5"/><circle cx="410" cy="1075" r="1.5"/><circle cx="415" cy="1083" r="1.5"/><circle cx="420" cy="1078" r="1.5"/><circle cx="424" cy="1065" r="1.5"/><circle cx="428" cy="1048" r="1.5"/><circle cx="432" cy="1035" r="1.5"/><circle cx="437" cy="1028" r="1.5"/><circle cx="442" cy="1032" r="1.5"/><circle cx="447" cy="1045" r="1.5"/><circle cx="452" cy="1058" r="1.5"/><circle cx="456" cy="1060" r="1.5"/><circle cx="461" cy="1068" r="1.5"/><circle cx="466" cy="1075" r="1.5"/><circle cx="472" cy="1070" r="1.5"/><circle cx="478" cy="1058" r="1.5"/><circle cx="484" cy="1044" r="1.5"/><circle cx="490" cy="1038" r="1.5"/><circle cx="444" cy="1050" r="1.5"/><circle cx="470" cy="1064" r="1.5"/></g>
<line x1="274" y1="1117" x2="274" y2="1143" stroke="#000" stroke-width="0.8"/>
<text x="278" y="1138" font-size="14">x<tspan font-size="9" dy="3">s</tspan></text>
<text x="172" y="1147" font-size="15" text-anchor="middle">KDTLI [6]</text>
<text x="435" y="1147" font-size="15" text-anchor="middle">LUMI [7]</text>

<!-- KDTLI chart -->
<rect x="67" y="1152" width="217" height="136" fill="none" stroke="#333" stroke-width="0.8"/>
<path d="M193,1288 C196,1288 198,1270 200,1252 L200,1288 Z" fill="#66f" opacity="0.8"/>
<path d="M67,1285 C95,1250 110,1166 128,1166 C150,1166 160,1240 185,1262 C210,1282 240,1286 284,1287" fill="none" stroke="#000" stroke-width="1.1" stroke-dasharray="2,2"/>
<path d="M67,1288 L188,1288 C196,1288 198,1166 202,1166 C206,1166 208,1288 216,1288 L284,1288" fill="none" stroke="#00f" stroke-width="1.1" stroke-dasharray="5,3"/>
<path d="M67,1288 L224,1288 C227,1288 228,1166 230,1166 C232,1166 233,1288 236,1288 L284,1288" fill="none" stroke="#f00" stroke-width="1.1"/>
<g font-size="7" text-anchor="end"><text x="64" y="1169">1.0</text><text x="64" y="1195">0.8</text><text x="64" y="1222">0.6</text><text x="64" y="1248">0.4</text><text x="64" y="1275">0.2</text><text x="64" y="1290">0.0</text></g>
<g font-size="7" text-anchor="middle"><text x="67" y="1298">10¹¹</text><text x="174" y="1298">10¹²</text><text x="283" y="1298">10¹³</text></g>
<text x="175" y="1314" font-size="12" text-anchor="middle" font-family="Liberation Serif" font-style="italic">τe <tspan font-style="normal">in [s]</tspan></text>
<text x="40" y="1220" font-size="12" text-anchor="middle" font-family="Liberation Serif" font-style="italic" transform="rotate(-90 40 1220)">p(τe|d, σ, I)/pmax</text>

<!-- LUMI chart -->
<rect x="346" y="1152" width="199" height="136" fill="none" stroke="#333" stroke-width="0.8"/>
<line x1="346" y1="1152" x2="545" y2="1152" stroke="#999" stroke-width="2"/>
<path d="M452,1288 C455,1288 458,1260 462,1225 L462,1288 Z" fill="#66f" opacity="0.8"/>
<path d="M346,1285 C360,1250 368,1166 381,1166 C398,1166 410,1240 430,1262 C450,1282 480,1286 545,1287" fill="none" stroke="#000" stroke-width="1.1" stroke-dasharray="2,2"/>
<path d="M346,1288 L445,1288 C455,1288 460,1166 467,1166 C476,1166 480,1270 500,1285 L545,1288" fill="none" stroke="#00f" stroke-width="1.1" stroke-dasharray="5,3"/>
<path d="M346,1288 L422,1288 C425,1288 426,1166 428,1166 C430,1166 431,1288 434,1288 L545,1288" fill="none" stroke="#f00" stroke-width="1.1"/>
<g font-size="7" text-anchor="end"><text x="343" y="1169">1.0</text><text x="343" y="1195">0.8</text><text x="343" y="1222">0.6</text><text x="343" y="1248">0.4</text><text x="343" y="1275">0.2</text><text x="343" y="1290">0.0</text></g>
<g font-size="7" text-anchor="middle"><text x="362" y="1298">10¹²</text><text x="395" y="1298">10¹³</text><text x="428" y="1298">10¹⁴</text><text x="461" y="1298">10¹⁵</text><text x="495" y="1298">10¹⁶</text></g>
<text x="445" y="1314" font-size="12" text-anchor="middle" font-family="Liberation Serif" font-style="italic">τe <tspan font-style="normal">in [s]</tspan></text>
<text x="323" y="1220" font-size="12" text-anchor="middle" font-family="Liberation Serif" font-style="italic" transform="rotate(-90 323 1220)">p(τe|d, σ, I)/pmax</text>
<g font-size="15" text-anchor="middle"><text x="515" y="1168" fill="#00f">8 best</text><text x="515" y="1187" fill="#00f">runs</text><text x="385" y="1268" fill="#f00">23 runs</text></g>

<!-- Mach-Zehnder diagram -->
<g stroke="#b03010" stroke-width="1.2" fill="none">
<polyline points="612,1056 670,1008 790,1008 852,1056"/>
<polyline points="612,1056 697,1098 700,1098"/>
<polyline points="767,1098 770,1098 852,1056"/>
<line x1="852" y1="1056" x2="897" y2="1027" marker-end="url(#ar)"/>
<line x1="852" y1="1056" x2="897" y2="1090" stroke-width="0.7" marker-end="url(#ar)"/>
</g>
<line x1="600" y1="1072" x2="632" y2="1049" stroke="#b03010" stroke-width="2.5"/>
<rect x="601" y="1053" width="32" height="7" fill="#8fcbd6" stroke="#5a8f9a" stroke-width="0.6"/>
<rect x="834" y="1053" width="32" height="7" fill="#8fcbd6" stroke="#5a8f9a" stroke-width="0.6"/>
<path d="M608,1115 C618,1115 619,1075 625,1075 C631,1075 632,1115 642,1115 Z" fill="#f64" stroke="#800"/>
<path d="M716,1041 C726,1041 727,1003 733,1003 C739,1003 740,1041 750,1041 Z" fill="#f64" stroke="#800"/>
<path d="M716,1085 C726,1085 727,1050 733,1050 C739,1050 740,1085 750,1085 Z" fill="#f64" stroke="#800"/>
<text x="733" y="1054" font-size="16" text-anchor="middle">+</text>
<path d="M860,1036 C870,1036 871,1014 877,1014 C883,1014 884,1036 894,1036 Z" fill="#fa8a70" transform="translate(-12,0)"/>
<path d="M860,1036 C870,1036 871,1014 877,1014 C883,1014 884,1036 894,1036 Z" fill="none" stroke="#f97" transform="translate(-12,51)"/>
<rect x="700" y="1085" width="68" height="26" fill="#aaa" stroke="#444"/>
<text x="734" y="1103" font-size="15" text-anchor="middle" font-family="Liberation Serif" font-style="italic">φ = tϵ/ħ</text>
<path d="M928,1020 L948,1012 L954,1024 L946,1040 Z" fill="#000"/><text x="941" y="1030" font-size="13" fill="#fff" text-anchor="middle" font-family="Liberation Serif" font-style="italic">a</text>
<path d="M928,1088 L948,1082 L954,1094 L944,1108 Z" fill="#000"/><text x="941" y="1100" font-size="13" fill="#fff" text-anchor="middle" font-family="Liberation Serif" font-style="italic">b</text>
<rect x="952" y="1010" width="126" height="85" fill="#fff" stroke="#000" stroke-width="2"/>
<line x1="962" y1="1046" x2="1074" y2="1046" stroke="#999"/>
<g fill="#5577cc"><circle cx="965" cy="1018" r="1.2"/><circle cx="968" cy="1027" r="1.2"/><circle cx="972" cy="1035" r="1.2"/><circle cx="977" cy="1052" r="1.2"/><circle cx="982" cy="1065" r="1.2"/><circle cx="987" cy="1073" r="1.2"/><circle cx="992" cy="1078" r="1.2"/><circle cx="996" cy="1070" r="1.2"/><circle cx="1000" cy="1055" r="1.2"/><circle cx="1004" cy="1040" r="1.2"/><circle cx="1008" cy="1028" r="1.2"/><circle cx="1012" cy="1025" r="1.2"/><circle cx="1016" cy="1032" r="1.2"/><circle cx="1020" cy="1044" r="1.2"/><circle cx="1024" cy="1052" r="1.2"/><circle cx="1028" cy="1066" r="1.2"/><circle cx="1032" cy="1070" r="1.2"/><circle cx="1036" cy="1072" r="1.2"/><circle cx="1040" cy="1064" r="1.2"/><circle cx="1044" cy="1058" r="1.2"/><circle cx="1048" cy="1052" r="1.2"/><circle cx="1052" cy="1040" r="1.2"/><circle cx="1056" cy="1034" r="1.2"/><circle cx="1060" cy="1028" r="1.2"/><circle cx="1064" cy="1030" r="1.2"/></g>
<text x="1015" y="1092" font-size="6" text-anchor="middle">relative phase</text>
<text x="958" y="1050" font-size="6" text-anchor="middle" transform="rotate(-90 958 1050)">population imbalance</text>

<!-- BEC chart -->
<rect x="600" y="1144" width="224" height="144" fill="none" stroke="#333" stroke-width="0.8"/>
<path d="M675,1288 C690,1280 700,1240 710,1180 L710,1288 Z" fill="#fbb"/>
<path d="M640,1288 C680,1288 700,1155 718,1155 C740,1155 760,1240 790,1275 C805,1285 815,1287 824,1286" fill="none" stroke="#000" stroke-width="1.1" stroke-dasharray="2,2"/>
<path d="M640,1288 L660,1288 C700,1288 720,1160 734,1160 C748,1160 755,1288 775,1288 L824,1288" fill="none" stroke="#f00" stroke-width="1.2"/>
<g font-size="7" text-anchor="end"><text x="597" y="1160">1.0</text><text x="597" y="1188">0.8</text><text x="597" y="1216">0.6</text><text x="597" y="1245">0.4</text><text x="597" y="1273">0.2</text><text x="597" y="1290">0.0</text></g>
<g font-size="7" text-anchor="middle"><text x="650" y="1298">10¹⁰</text><text x="710" y="1298">10¹¹</text><text x="790" y="1298">10¹²</text></g>
<text x="712" y="1314" font-size="12" text-anchor="middle" font-family="Liberation Serif" font-style="italic">τe <tspan font-style="normal">in [s]</tspan></text>
<text x="577" y="1220" font-size="12" text-anchor="middle" font-family="Liberation Serif" font-style="italic" transform="rotate(-90 577 1220)">p(τe|d, σ, I)/pmax</text>

<!-- Atom chart -->
<rect x="880" y="1146" width="208" height="140" fill="none" stroke="#333" stroke-width="0.8"/>
<line x1="880" y1="1146" x2="1088" y2="1146" stroke="#999" stroke-width="2"/>
<path d="M880,1282 C910,1250 935,1158 955,1158 C975,1158 1000,1240 1030,1265 C1055,1280 1075,1284 1088,1284" fill="none" stroke="#000" stroke-width="1.1" stroke-dasharray="2,2"/>
<line x1="946" y1="1158" x2="946" y2="1286" stroke="#00f" stroke-width="1.6"/>
<path d="M880,1286 L953,1286 C956,1286 957,1158 959,1158 C961,1158 962,1286 965,1286 L1088,1286" fill="none" stroke="#f00" stroke-width="1.2"/>
<g font-size="7" text-anchor="end"><text x="877" y="1162">1.0</text><text x="877" y="1190">0.8</text><text x="877" y="1218">0.6</text><text x="877" y="1246">0.4</text><text x="877" y="1274">0.2</text><text x="877" y="1288">0.0</text></g>
<g font-size="7" text-anchor="middle"><text x="882" y="1296">10¹¹</text><text x="985" y="1296">10¹²</text><text x="1086" y="1296">10¹³</text></g>
<text x="985" y="1314" font-size="12" text-anchor="middle" font-family="Liberation Serif" font-style="italic">τe <tspan font-style="normal">in [s]</tspan></text>
<text x="862" y="1220" font-size="12" text-anchor="middle" font-family="Liberation Serif" font-style="italic" transform="rotate(-90 862 1220)">p(τe|d, σ, I)/pmax</text>
<g font-size="15" text-anchor="middle"><text x="904" y="1253" fill="#00f">without</text><text x="904" y="1272" fill="#00f">noise</text>
<text x="1046" y="1202" fill="#f00">with</text><text x="1046" y="1221" fill="#f00">measeurement</text><text x="1046" y="1240" fill="#f00">noise</text><text x="1046" y="1259" fill="#f00">considered</text></g>

<!-- scatter -->
<rect x="450" y="1392" width="209" height="128" fill="none" stroke="#333" stroke-width="0.8"/>
<g font-size="6" text-anchor="end"><text x="447" y="1395">20</text><text x="447" y="1427">15</text><text x="447" y="1458">10</text><text x="447" y="1490">5</text><text x="447" y="1522">0</text></g>
<g font-size="6" text-anchor="middle"><text x="455" y="1529">10⁻¹²</text><text x="505" y="1529">10⁻⁹</text><text x="555" y="1529">10⁻⁶</text><text x="605" y="1529">10⁻³</text><text x="655" y="1529">10⁰</text></g>
<text x="555" y="1540" font-size="6" text-anchor="middle">ℏ/σq in [m]</text>
<text x="438" y="1458" font-size="6" transform="rotate(-90 438 1458)">μ</text>
<g fill="#000"><circle cx="505" cy="1433" r="2"/><circle cx="501" cy="1441" r="2"/><circle cx="458" cy="1489" r="2"/><circle cx="556" cy="1452" r="2"/><circle cx="555" cy="1476" r="2"/><circle cx="545" cy="1482" r="2"/><circle cx="631" cy="1467" r="2"/></g>
<g font-size="9"><text x="509" y="1436">LUMI</text><text x="469" y="1445">KDTLI</text><text x="462" y="1492">ENB</text><text x="543" y="1443">MZI (atoms)</text><text x="560" y="1479">SSS</text><text x="530" y="1497">QRW</text><text x="608" y="1478">MZI(BEC)</text></g>
</svg>
</div></body></html>
